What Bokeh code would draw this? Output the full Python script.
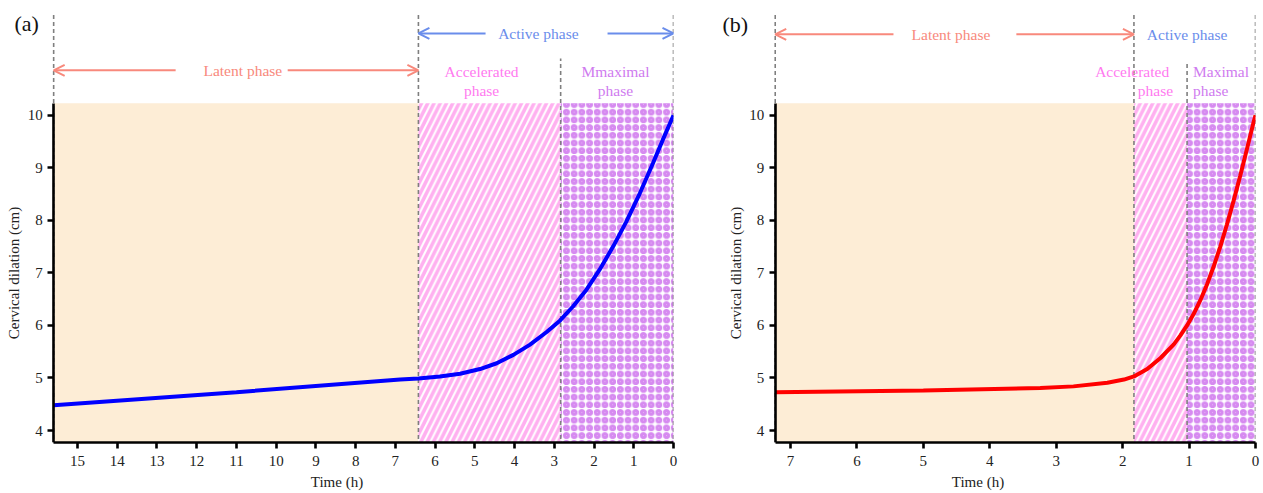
from bokeh.plotting import figure
from bokeh.models import Range1d, Arrow, OpenHead, FixedTicker
from bokeh.layouts import row
from bokeh.embed import file_html
from bokeh.resources import INLINE
from bokeh.core.properties import value

# ---------------- data ----------------
hours_a = [15.6, 11.0, 6.88, 6.42, 5.88, 5.37, 4.87, 4.45, 4.03, 3.62, 3.20, 2.86, 2.53, 2.19,
           1.86, 1.52, 1.19, 0.85, 0.52, 0.27, 0.0]
dil_a = [4.48, 4.73, 4.97, 4.99, 5.03, 5.08, 5.17, 5.28, 5.44, 5.63, 5.87, 6.09, 6.36, 6.68,
         7.06, 7.50, 7.97, 8.51, 9.08, 9.53, 10.0]

hours_b = [7.23, 5.00, 3.24, 2.74, 2.23, 1.98, 1.83, 1.63, 1.43, 1.23, 1.13, 1.03, 0.93, 0.83,
           0.73, 0.63, 0.53, 0.43, 0.33, 0.23, 0.13, 0.03, 0.0]
dil_b = [4.73, 4.76, 4.81, 4.84, 4.91, 4.97, 5.03, 5.17, 5.38, 5.64, 5.81, 6.00, 6.22, 6.48,
         6.78, 7.12, 7.50, 7.92, 8.37, 8.85, 9.35, 9.86, 10.0]

# phase boundaries (h before full dilation): latent start, accelerated start, maximal start, end
bounds_a = [15.6, 6.42, 2.84, 0.0]
bounds_b = [7.23, 1.83, 1.03, 0.0]

x_ticks_a = list(range(0, 16))
x_ticks_b = list(range(0, 8))
y_ticks = [4, 5, 6, 7, 8, 9, 10]
shade_top = 10.23

Y0, Y1 = 3.772, 12.183

FONT = "Liberation Serif"
LATENT_C = "#F8897C"
ACTIVE_C = "#6A8DEB"
ACCEL_C = "#FF7AF0"
MAX_C = "#CF7BEF"


def make_panel(hours, dil, bounds, xticks, line_color, width, x_left, br, ann):
    p = figure(width=width, height=493, output_backend="svg", toolbar_location=None,
               x_range=Range1d(x_left, bounds[3]), y_range=Range1d(Y0, Y1),
               min_border_left=0, min_border_right=br, min_border_top=0, min_border_bottom=51)
    p.xgrid.visible = False
    p.ygrid.visible = False
    p.outline_line_color = None
    p.background_fill_color = "white"

    # phase regions
    p.quad(left=bounds[0], right=bounds[1], bottom=Y0 - 1, top=shade_top,
           fill_color="#FDEDD6", line_color=None)
    p.quad(left=bounds[1], right=bounds[2], bottom=Y0 - 1, top=shade_top,
           fill_color="white", line_color=None, hatch_pattern="right_diagonal_line",
           hatch_color="#FFB0F0", hatch_scale=12.5, hatch_weight=3.6)
    p.quad(left=bounds[2], right=bounds[3], bottom=Y0 - 1, top=shade_top,
           fill_color="white", line_color=None, hatch_pattern="ring",
           hatch_color="#D68AF0", hatch_scale=7.7, hatch_weight=3.1)

    # dashed boundaries
    tops = [11.956, 11.956, ann["inner_top"], 11.956]
    p.segment(x0=bounds, y0=[Y0 - 1] * 4, x1=bounds, y1=tops,
              line_color="#7F7F7F", line_dash="4 3", line_width=1.6)

    # curve
    p.line(hours, dil, line_color=line_color, line_width=4)

    # arrows
    for (xs, xe, y, c) in ann["arrows"]:
        p.add_layout(Arrow(x_start=xs, y_start=y, x_end=xe, y_end=y, line_color=c, line_width=2,
                           end=OpenHead(size=11, line_color=c, line_width=2)))

    # texts
    for (x, y, t, c, align) in ann["texts"]:
        p.text(x=[x], y=[y], text=[t], text_color=c, text_font=value(FONT),
               text_font_size="15.5px", text_align=align, text_baseline="middle")

    tx, ty, tt = ann["tag"]
    p.text(x=[tx], y=[ty], text=[tt], text_color="#111111", text_font=value(FONT),
           text_font_size="22px", text_align="center", text_baseline="middle")

    # axes
    p.xaxis.ticker = FixedTicker(ticks=xticks)
    p.yaxis.ticker = FixedTicker(ticks=y_ticks)
    p.yaxis.bounds = (Y0, shade_top)
    p.xaxis.bounds = (bounds[0], bounds[3])
    p.yaxis.fixed_location = bounds[0]
    p.xaxis.axis_label = "Time (h)"
    p.yaxis.axis_label = "Cervical dilation (cm)"
    for ax in (p.xaxis, p.yaxis):
        ax.axis_line_width = 2.6
        ax.axis_line_color = "black"
        ax.major_tick_line_width = 2.6
        ax.major_tick_line_color = "black"
        ax.major_tick_out = 6
        ax.major_tick_in = 0
        ax.minor_tick_out = 0
        ax.minor_tick_in = 0
        ax.major_label_text_font = FONT
        ax.major_label_text_font_size = "15px"
        ax.major_label_text_color = "#222222"
        ax.axis_label_text_font = FONT
        ax.axis_label_text_font_size = "15px"
        ax.axis_label_text_font_style = "normal"
        ax.axis_label_text_color = "#222222"
    p.xaxis.major_label_standoff = 7
    p.xaxis.axis_label_standoff = 5
    p.yaxis.major_label_standoff = 5
    p.yaxis.axis_label_standoff = 3
    return p


ann_a = {
    "inner_top": 11.08,
    "arrows": [(12.53, 15.6, 10.854, LATENT_C), (9.71, 6.42, 10.854, LATENT_C),
               (4.73, 6.42, 11.557, ACTIVE_C), (1.66, 0.0, 11.557, ACTIVE_C)],
    "texts": [(10.84, 10.854, "Latent phase", LATENT_C, "center"),
              (3.40, 11.557, "Active phase", ACTIVE_C, "center"),
              (4.83, 10.84, "Accelerated", ACCEL_C, "center"),
              (4.83, 10.47, "phase", ACCEL_C, "center"),
              (1.46, 10.84, "Mmaximal", MAX_C, "center"),
              (1.46, 10.47, "phase", MAX_C, "center")],
    "tag": (16.28, 11.75, "(a)"),
}

ann_b = {
    "inner_top": 11.03,
    "arrows": [(5.45, 7.23, 11.54, LATENT_C), (3.60, 1.83, 11.54, LATENT_C)],
    "texts": [(4.585, 11.54, "Latent phase", LATENT_C, "center"),
              (1.03, 11.54, "Active phase", ACTIVE_C, "center"),
              (1.30, 10.84, "Accelerated", ACCEL_C, "right"),
              (1.24, 10.47, "phase", ACCEL_C, "right"),
              (0.94, 10.84, "Maximal", MAX_C, "left"),
              (0.94, 10.47, "phase", MAX_C, "left")],
    "tag": (7.83, 11.73, "(b)"),
}

pa = make_panel(hours_a, dil_a, bounds_a, x_ticks_a, "#0000FF", 700, 16.938, 27, ann_a)
pb = make_panel(hours_b, dil_b, bounds_b, x_ticks_b, "#FF0000", 563, 8.355, 8, ann_b)

layout = row(pa, pb)
open("out.html", "w").write(file_html(layout, INLINE))
